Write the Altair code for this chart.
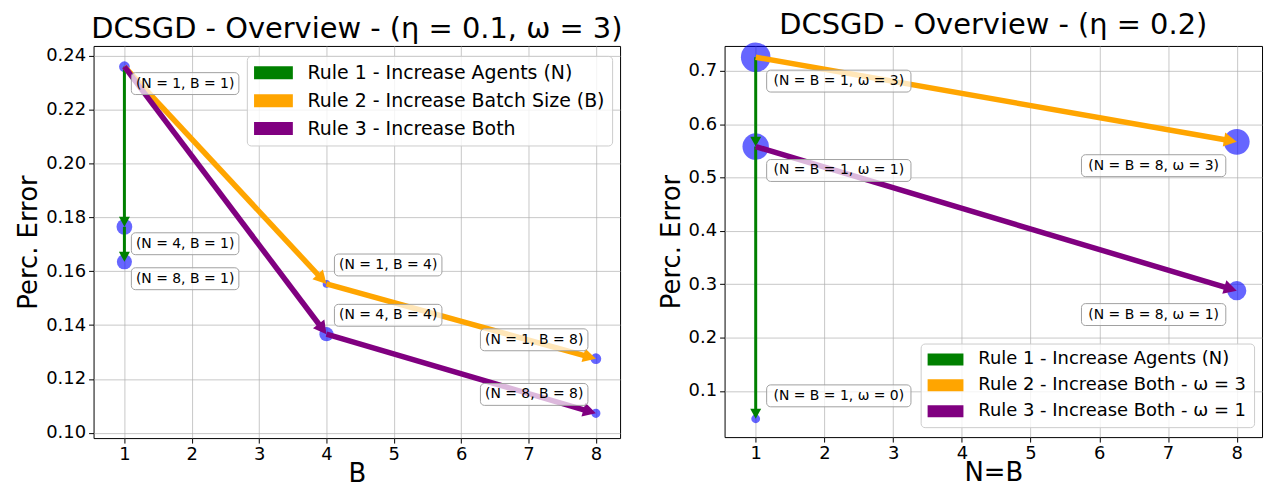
import math
import altair as alt
import pandas as pd

# ---------------- left panel: DCSGD, eta = 0.1, omega = 3 ----------------
left_B = [1, 1, 1, 4, 4, 8, 8]
left_N = [1, 4, 8, 1, 4, 1, 8]
left_err = [0.2360, 0.1765, 0.1635, 0.1553, 0.1366, 0.1275, 0.1072]
left_spread = [0.34, 0.50, 0.48, 0.24, 0.45, 0.34, 0.29]
left_rule_names = ["Rule 1 - Increase Agents (N)",
                   "Rule 2 - Increase Batch Size (B)",
                   "Rule 3 - Increase Both"]
left_rule_paths = [[0, 1, 2], [0, 3, 5], [0, 4, 6]]
left_yticks = [0.10, 0.12, 0.14, 0.16, 0.18, 0.20, 0.22, 0.24]

# ---------------- right panel: DCSGD, eta = 0.2 ----------------
right_NB = [1, 1, 1, 8, 8]
right_omega = [3, 1, 0, 3, 1]
right_err = [0.7255, 0.5580, 0.0480, 0.5670, 0.2880]
right_spread = [0.94, 0.84, 0.28, 0.82, 0.61]
right_rule_names = ["Rule 1 - Increase Agents (N)",
                    "Rule 2 - Increase Both - ω = 3",
                    "Rule 3 - Increase Both - ω = 1"]
right_rule_paths = [[0, 1, 2], [0, 3], [1, 4]]
right_yticks = [0.1, 0.2, 0.3, 0.4, 0.5, 0.6, 0.7]

xticks = [1, 2, 3, 4, 5, 6, 7, 8]
rule_colors = ["green", "orange", "purple"]

FONT = "DejaVu Sans"
HEAD_PATH = "M0,0 L-1,-0.55 L-1,0.55 Z"
LEGEND_PATH = "M-1,-0.67 L3,-0.67 L3,0.67 L-1,0.67 Z"


def panel(x, y, spread, labels, places, offsets, box_w, rule_names, rule_paths,
          xdom, ydom, W, H, yticks, yfmt, xtitle, title, legend_pos, legend_font,
          legend_sym, legend_gap):
    pts = pd.DataFrame({"x": x, "y": y, "spread": spread, "label": labels, "place": places})
    sx = W / (xdom[1] - xdom[0])
    sy = H / (ydom[1] - ydom[0])
    rows = []
    for ri, (name, path) in enumerate(zip(rule_names, rule_paths)):
        head = 10 if ri == 0 else 13
        for a, b in zip(path[:-1], path[1:]):
            x1, y1, x2, y2 = x[a], y[a], x[b], y[b]
            dxp = (x2 - x1) * sx
            dyp = -(y2 - y1) * sy
            d = math.hypot(dxp, dyp)
            ux, uy = dxp / d, dyp / d
            rows.append({
                "rule": name, "major": ri > 0,
                "x1": x1, "y1": y1, "x2": x2, "y2": y2,
                "xe": x2 - ux * head * 0.7 / sx,
                "ye": y2 + uy * head * 0.7 / sy,
                "angle": math.degrees(math.atan2(dyp, dxp)) % 360,
            })
    arr = pd.DataFrame(rows)

    color_scale = alt.Scale(domain=rule_names, range=rule_colors)
    xs = alt.Scale(domain=xdom, nice=False, zero=False)
    ys = alt.Scale(domain=ydom, nice=False, zero=False)
    xaxis = alt.Axis(values=xticks, format="d", title=xtitle, titlePadding=-3)
    yaxis = alt.Axis(values=yticks, format=yfmt, title="Perc. Error")

    legend = alt.Legend(orient="none", legendX=legend_pos[0], legendY=legend_pos[1], title=None,
                        symbolType=LEGEND_PATH, symbolSize=legend_sym, symbolStrokeWidth=0,
                        labelFontSize=legend_font, labelFont=FONT, labelColor="black", labelLimit=500,
                        fillColor="rgba(255,255,255,0.8)", strokeColor="#cccccc", cornerRadius=4,
                        padding=7, rowPadding=8, labelOffset=legend_gap, symbolOpacity=1)
    cenc = alt.Color("rule:N", scale=color_scale, legend=legend)

    dots = alt.Chart(pts).mark_circle(color="blue", opacity=0.6).encode(
        x=alt.X("x:Q", scale=xs, axis=xaxis), y=alt.Y("y:Q", scale=ys, axis=yaxis),
        size=alt.Size("spread:Q", scale=alt.Scale(type="pow", exponent=2, domain=[0, 1], range=[0, 1000]), legend=None),
    )

    base_arr = alt.Chart(arr)

    def lines(flag, width):
        return base_arr.transform_filter(alt.datum.major == flag).mark_rule(strokeWidth=width).encode(
            x=alt.X("x1:Q", scale=xs, axis=xaxis), y=alt.Y("y1:Q", scale=ys, axis=yaxis),
            x2="xe:Q", y2="ye:Q", color=cenc,
        )

    def heads(flag, size):
        return base_arr.transform_filter(alt.datum.major == flag).mark_point(
            shape=HEAD_PATH, filled=True, opacity=1, size=size, strokeWidth=0).encode(
            x=alt.X("x2:Q", scale=xs, axis=xaxis), y=alt.Y("y2:Q", scale=ys, axis=yaxis),
            angle=alt.Angle("angle:Q", scale=None), color=cenc,
        )

    layers = [dots, heads(True, 676), heads(False, 400), lines(False, 3), lines(True, 5.5)]

    for place, (xl, yc) in offsets.items():
        sub = alt.Chart(pts).transform_filter(alt.datum.place == place)
        box = sub.mark_rect(xOffset=xl, x2Offset=xl + box_w, yOffset=yc - 11, y2Offset=yc + 11,
                            cornerRadius=4, fill="white", fillOpacity=0.72, stroke="#a0a0a0",
                            strokeWidth=1).encode(
            x=alt.X("x:Q", scale=xs, axis=xaxis), x2="x:Q", y=alt.Y("y:Q", scale=ys, axis=yaxis), y2="y:Q")
        txt = sub.mark_text(dx=xl + box_w / 2, dy=yc, align="center", baseline="middle",
                            font=FONT, fontSize=14, color="black").encode(
            x=alt.X("x:Q", scale=xs, axis=xaxis), y=alt.Y("y:Q", scale=ys, axis=yaxis), text="label:N")
        layers += [box, txt]

    return alt.layer(*layers).properties(
        width=W, height=H,
        title=alt.TitleParams(title, fontSize=29, font=FONT, fontWeight="normal", offset=2, anchor="middle"),
    )


left_labels = [f"(N = {n}, B = {b})" for n, b in zip(left_N, left_B)]
left_places = [{1: "rb", 4: "ra", 8: "la"}[b] for b in left_B]
left_offsets = {"rb": (7, 17), "ra": (8, -19), "la": (-116, -19)}

right_labels = [f"(N = B = {nb}, ω = {w})" for nb, w in zip(right_NB, right_omega)]
right_places = [("r" if nb == 1 else "l") + ("a" if e < 0.1 else "b") for nb, e in zip(right_NB, right_err)]
right_offsets = {"rb": (11, 24), "ra": (11, -23), "lb": (-156, 24)}

left = panel(left_B, left_err, left_spread, left_labels, left_places, left_offsets, 108,
             left_rule_names, left_rule_paths, [0.542, 8.359], [0.098, 0.2437], 529, 394,
             left_yticks, ".2f", "B", "DCSGD - Overview - (η = 0.1, ω = 3)", (154, 10), 19, 380, 34)

right = panel(right_NB, right_err, right_spread, right_labels, right_places, right_offsets, 145,
              right_rule_names, right_rule_paths, [0.547, 8.368], [0.0136, 0.7466], 540, 393,
              right_yticks, ".1f", "N=B", "DCSGD - Overview - (η = 0.2)", (197, 299), 18, 324, 33)

chart = alt.hconcat(left, right, spacing=34).resolve_scale(
    color="independent", x="independent", y="independent"
).resolve_legend(color="independent").properties(
    padding={"left": 15, "top": 9, "right": 5, "bottom": 5}
).configure(font=FONT).configure_view(stroke="black", strokeWidth=1).configure_axis(
    labelFontSize=18, labelFont=FONT, labelColor="black", titleFontSize=26, titleFont=FONT,
    titleFontWeight="normal", titleColor="black", tickColor="black", tickSize=5, labelPadding=3,
    titlePadding=4, domain=False, grid=True, gridColor="#b0b0b0", gridOpacity=0.7,
)

chart.save("out.html", embed_options={"renderer": "svg", "actions": False})
